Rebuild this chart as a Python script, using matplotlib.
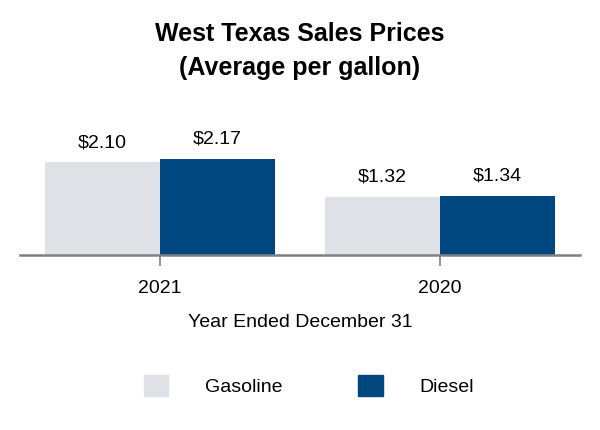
import matplotlib
matplotlib.use('Agg')
import matplotlib.pyplot as plt
from matplotlib.patches import Patch
import numpy as np

plt.rcParams['font.family'] = ['Liberation Sans', 'DejaVu Sans']

# data
years = ['2021', '2020']
gasoline = [2.10, 1.32]
diesel = [2.17, 1.34]
series_names = ['Gasoline', 'Diesel']
colors = ['#e0e1e6', '#00467f']

fig = plt.figure(figsize=(6, 4.3), dpi=100)
ax = fig.add_axes([0.0333, 0.407, 0.9334, 0.36])

x = np.arange(len(years))
w = 0.41
b1 = ax.bar(x - w / 2, gasoline, w, color=colors[0])
b2 = ax.bar(x + w / 2, diesel, w, color=colors[1])

for bars, vals in ((b1, gasoline), (b2, diesel)):
    for r, v in zip(bars, vals):
        ax.text(r.get_x() + r.get_width() / 2, v + 0.25, '${:.2f}'.format(v),
                ha='center', va='bottom', fontsize=14)

ax.set_xlim(-0.5, 1.5)
ax.set_ylim(0, 3.5)
ax.set_xticks(x)
ax.set_xticklabels(years, fontsize=14)
ax.tick_params(axis='x', length=8, width=1.2, color='#808080', pad=10)
ax.set_yticks([])
for s in ['top', 'right', 'left']:
    ax.spines[s].set_visible(False)
ax.spines['bottom'].set_color('#808080')
ax.spines['bottom'].set_linewidth(1.8)
ax.set_xlabel('Year Ended December 31', fontsize=14, labelpad=12)

fig.text(0.5, 0.882, 'West Texas Sales Prices\n(Average per gallon)', ha='center',
         va='center', fontsize=18, fontweight='bold', linespacing=1.55)

handles = [Patch(color=c) for c in colors]
fig.legend(handles, series_names, loc='center', bbox_to_anchor=(0.515, 0.103), ncol=2,
           frameon=False, fontsize=14, handlelength=1.24, handleheight=1.24,
           handletextpad=1.9, columnspacing=3.9)

fig.savefig('out.png', dpi=100)
